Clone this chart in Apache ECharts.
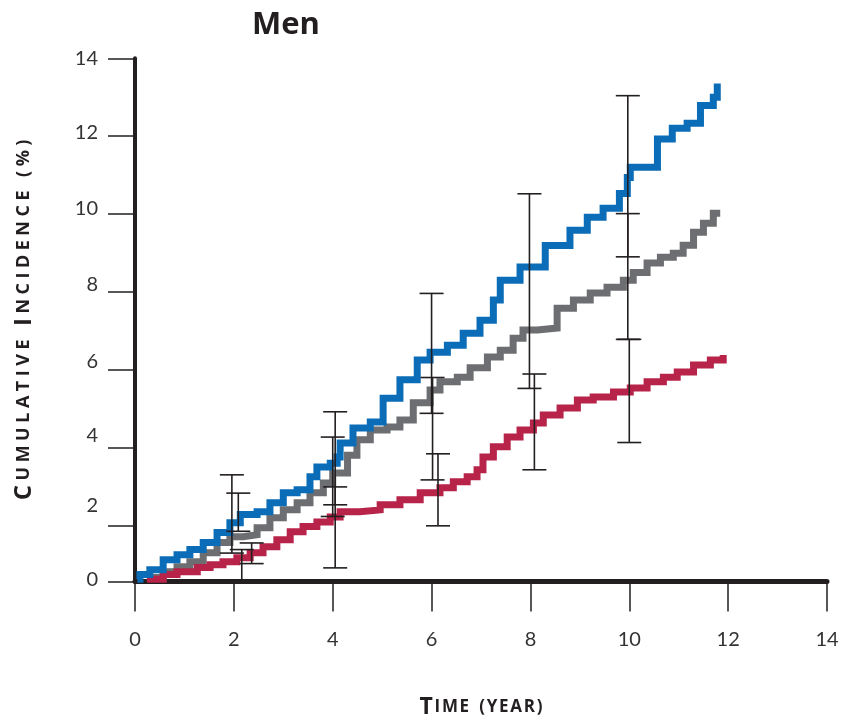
<!DOCTYPE html>
<html>
<head>
<meta charset="utf-8">
<title>Men - cumulative incidence</title>
<script src="https://cdn.jsdelivr.net/npm/echarts@6/dist/echarts.min.js"></script>
<style>
  html, body { margin: 0; padding: 0; background: #fff; }
  #chart { width: 850px; height: 720px; }
</style>
</head>
<body>
<div id="chart"></div>
<script>
// ---- data ----
const xTicks = [0, 2, 4, 6, 8, 10, 12, 14];
const yTicks = [2, 4, 6, 8, 10, 12, 14];
const yBottom = 0.56; // the x axis crosses the y scale a bit above 0, labelled "0"
// in the original the y labels sit a little above their ticks
const yLabelAt = [0.6, 2.5, 4.3, 6.2, 8.2, 10.15, 12.1, 14.0];

const blueSteps = [
    [0.05, 0.62], [0.1, 0.74], [0.3, 0.86], [0.57, 1.12], [0.85, 1.25], [1.11, 1.38],
    [1.38, 1.56], [1.66, 1.82], [1.92, 2.07], [2.13, 2.28], [2.47, 2.35], [2.73, 2.58],
    [3.0, 2.84], [3.28, 2.92], [3.54, 3.25], [3.68, 3.5], [3.95, 3.6], [4.09, 3.76],
    [4.15, 4.12], [4.41, 4.5], [4.76, 4.66], [5.02, 5.27], [5.36, 5.74], [5.71, 6.25],
    [5.97, 6.45], [6.32, 6.63], [6.64, 6.94], [6.98, 7.27], [7.25, 7.79], [7.39, 8.3],
    [7.79, 8.64], [8.3, 9.19], [8.8, 9.58], [9.15, 9.92], [9.47, 10.15], [9.8, 10.53],
    [9.96, 10.94], [10.02, 11.2], [10.36, 11.2], [10.57, 11.93], [10.87, 12.2], [11.17, 12.33],
    [11.44, 12.79], [11.7, 13.0], [11.78, 13.35]
];
const graySteps = [
    [0.24, 0.66], [0.57, 0.81], [0.85, 0.94], [1.11, 1.07], [1.38, 1.3], [1.66, 1.56],
    [1.92, 1.71], [2.19, 1.76], [2.47, 1.94], [2.73, 2.2], [3.0, 2.4], [3.28, 2.58],
    [3.54, 2.84], [3.81, 3.09], [4.0, 3.35], [4.3, 3.8], [4.49, 4.2], [4.76, 4.45],
    [5.1, 4.53], [5.36, 4.71], [5.63, 5.15], [5.97, 5.48], [6.17, 5.69], [6.52, 5.81],
    [6.78, 6.05], [7.13, 6.33], [7.39, 6.5], [7.65, 6.81], [7.85, 7.02], [8.14, 7.07],
    [8.54, 7.58], [8.87, 7.79], [9.21, 7.97], [9.55, 8.12], [9.88, 8.3], [10.08, 8.5],
    [10.36, 8.74], [10.63, 8.89], [10.89, 8.99], [11.09, 9.2], [11.3, 9.53], [11.5, 9.76],
    [11.7, 10.02], [11.84, 10.02]
];
const redSteps = [
    [0.24, 0.62], [0.57, 0.74], [0.85, 0.81], [1.26, 0.92], [1.52, 0.99], [1.78, 1.07],
    [2.06, 1.17], [2.33, 1.3], [2.59, 1.45], [2.87, 1.63], [3.14, 1.84], [3.4, 1.97],
    [3.68, 2.09], [3.95, 2.22], [4.15, 2.35], [4.55, 2.4], [4.96, 2.53], [5.36, 2.66],
    [5.77, 2.84], [6.17, 2.97], [6.44, 3.12], [6.72, 3.25], [6.92, 3.43], [7.04, 3.76],
    [7.25, 4.02], [7.53, 4.27], [7.79, 4.45], [8.06, 4.63], [8.26, 4.84], [8.6, 5.02],
    [8.95, 5.22], [9.27, 5.3], [9.68, 5.43], [10.02, 5.53], [10.36, 5.69], [10.69, 5.81],
    [10.97, 5.94], [11.3, 6.12], [11.64, 6.25], [11.9, 6.38]
];

// error bars (all drawn black): time, lower, upper
const errX    = [1.96, 2.09, 2.16, 2.36, 4.05, 4.0, 4.05, 6.0, 6.02, 6.13, 7.98, 8.08, 9.97, 9.97, 10.0];
const errLow  = [1.29, 1.85, 0.6, 1.02, 2.53, 2.23, 0.91, 4.88, 3.17, 1.99, 5.52, 3.43, 8.9, 6.78, 4.13];
const errHigh = [3.3, 2.83, 1.38, 1.55, 4.92, 4.27, 2.99, 7.96, 5.8, 3.84, 10.52, 5.89, 13.04, 10.01, 6.78];

const INK = '#231f20';

// small caps with wide tracking, built as rich text
function smallCaps(text, gap) {
    return text.split(' ').map(word => {
        const first = word[0];
        const rest = word.slice(1).toUpperCase().split('').join(gap);
        const big = /[A-Z]/.test(first) ? '{big|' + first + '}' : '{sm|' + first + '}';
        return big + (rest ? '{sm|' + gap + rest + '}' : '');
    }).join('{sm|\u2002' + gap + '}');
}

const chart = echarts.init(document.getElementById('chart'), null, { renderer: 'canvas' });

const stepLine = (data, color) => ({
    type: 'line',
    step: 'end',
    data: data,
    symbol: 'none',
    z: 3,
    lineStyle: { color: color, width: 7, cap: 'butt', join: 'miter' }
});

const option = {
    backgroundColor: '#fff',
    animation: false,
    title: {
        text: 'Men',
        left: 247,
        top: 5,
        textStyle: { fontFamily: 'Open Sans', fontWeight: 'bold', fontSize: 31, color: INK }
    },
    // keep the plot box fixed; do not let v6 shrink it to fit the names
    grid: { left: 135, right: 23, top: 58.3, bottom: 138.5, containLabel: false, outerBoundsMode: 'none' },
    xAxis: {
        type: 'value',
        min: 0, max: 14, interval: 2,
        name: smallCaps('Time (year)', '\u200a'),
        nameLocation: 'middle',
        nameGap: 114,
        nameTextStyle: {
            color: INK,
            rich: {
                big: { fontFamily: 'Open Sans', fontWeight: 'bold', fontSize: 23, color: INK },
                sm: { fontFamily: 'Open Sans', fontWeight: 'bold', fontSize: 17, color: INK }
            }
        },
        axisLine: { onZero: false, lineStyle: { color: INK, width: 5 } },
        axisTick: { show: true, inside: false, length: 30, lineStyle: { color: INK, width: 1.5 } },
        axisLabel: {
            margin: 48, fontFamily: 'Lato', fontSize: 20, color: '#333',
            formatter: v => xTicks.includes(v) ? String(v) : ''
        },
        splitLine: { show: false }
    },
    yAxis: {
        type: 'value',
        min: yBottom, max: 14,
        name: smallCaps('Cumulative Incidence (%)', '\u2005'),
        nameLocation: 'middle',
        nameGap: 99,
        nameTextStyle: {
            color: INK,
            rich: {
                big: { fontFamily: 'Open Sans', fontWeight: 'bold', fontSize: 24, color: INK },
                sm: { fontFamily: 'Open Sans', fontWeight: 'bold', fontSize: 18, color: INK }
            }
        },
        axisLine: { onZero: false, lineStyle: { color: INK, width: 4 } },
        axisTick: {
            show: true, inside: false, length: 27,
            customValues: [yBottom].concat(yTicks),
            lineStyle: { color: INK, width: 1.5 }
        },
        axisLabel: {
            margin: 37, fontFamily: 'Lato', fontSize: 20, color: '#333',
            customValues: yLabelAt,
            formatter: v => String(Math.round(v / 2) * 2)
        },
        splitLine: { show: false }
    },
    series: [
        stepLine(graySteps, '#6d6e71'),
        stepLine(redSteps, '#b8234a'),
        stepLine(blueSteps, '#0b6db7'),
        {
            type: 'custom',
            z: 5,
            data: errX.map((x, i) => [x, errLow[i], errHigh[i]]),
            renderItem: (params, api) => {
                const lo = api.coord([api.value(0), api.value(1)]);
                const hi = api.coord([api.value(0), api.value(2)]);
                const half = 12;
                const style = { stroke: INK, lineWidth: 1.6 };
                return {
                    type: 'group',
                    children: [
                        { type: 'line', shape: { x1: lo[0], y1: lo[1], x2: hi[0], y2: hi[1] }, style: style },
                        { type: 'line', shape: { x1: lo[0] - half, y1: lo[1], x2: lo[0] + half, y2: lo[1] }, style: style },
                        { type: 'line', shape: { x1: hi[0] - half, y1: hi[1], x2: hi[0] + half, y2: hi[1] }, style: style }
                    ]
                };
            }
        }
    ]
};

chart.setOption(option);
window.addEventListener('resize', () => chart.resize());
</script>
</body>
</html>
